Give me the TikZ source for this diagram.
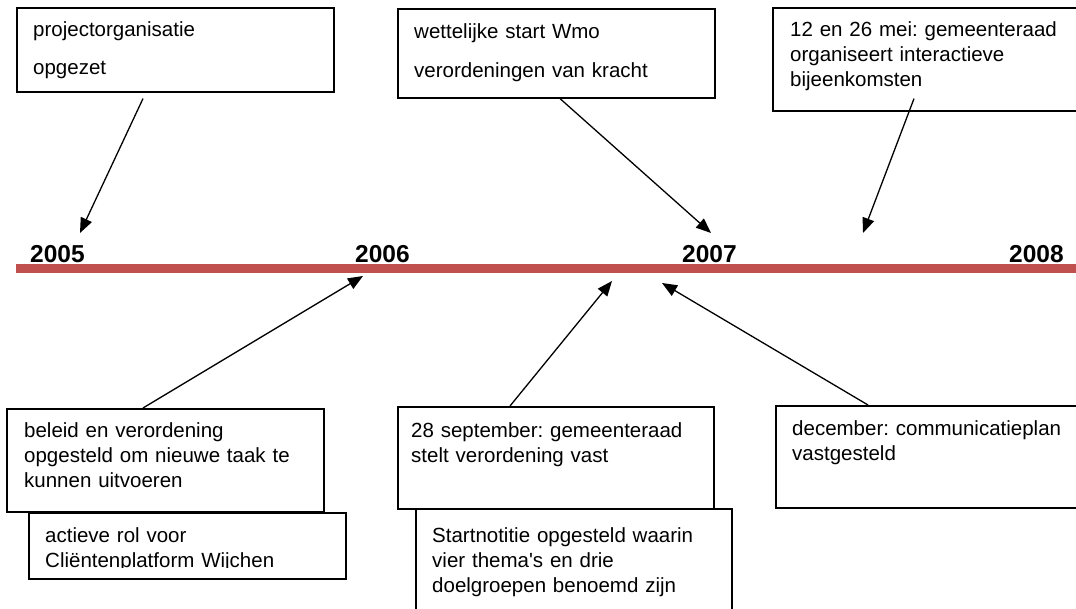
\documentclass[tikz,border=0pt]{standalone}
\usepackage{fontspec}
\setmainfont{Liberation Sans}
\usetikzlibrary{arrows.meta,calc}
\definecolor{barred}{RGB}{192,80,77}
\frenchspacing
\begin{document}
\begin{tikzpicture}[x=1pt,y=-1pt,
  evbox/.style={draw=black,line width=1.6pt,inner sep=0pt,anchor=north west,minimum width=#1},
  txt/.style={inner sep=0pt,anchor=base west,align=left,text width=330pt,font=\fontsize{20.5}{25}\selectfont},
  wide/.style={font=\fontsize{20.5}{#1}\selectfont},
  yearlbl/.style={inner sep=0pt,anchor=base west,font=\fontsize{24.5}{24.5}\selectfont\bfseries},
  arr/.style={line width=1.3pt,-{Triangle[length=15pt,width=12pt]}}]
\useasboundingbox (0,0) rectangle (1076,609);
\clip (0,0) rectangle (1076,609);

% timeline
\fill[barred] (16,264) rectangle (1080,273);
\node[yearlbl] (y5) at (30,262.5) {2005};
\node[yearlbl] (y6) at (355,262.5) {2006};
\node[yearlbl] (y7) at (682,262.5) {2007};
\node[yearlbl] (y8) at (1009,262.5) {2008};

% top boxes
\node[evbox=317pt,minimum height=84pt] (b1) at (16,7) {};
\node[txt,wide=38] (t1) at (33,37) {projectorganisatie\\opgezet};

\node[evbox=317pt,minimum height=89pt] (b2) at (397,8) {};
\node[txt,wide=39] (t2) at (414,39) {wettelijke start Wmo\\verordeningen van kracht};

\node[evbox=330pt,minimum height=103pt] (b3) at (772,7) {};
\node[txt] (t3) at (790,37) {12 en 26 mei: gemeenteraad\\organiseert interactieve\\bijeenkomsten};

% bottom boxes
\node[evbox=317pt,minimum height=103pt] (b4) at (6,408) {};
\node[txt] (t4) at (24,437) {beleid en verordening\\opgesteld om nieuwe taak te\\kunnen uitvoeren};

\node[evbox=317pt,minimum height=66pt] (b5) at (28,512) {};
\begin{scope}
\clip (28,512) rectangle (345,567.5);
\node[txt] (t5) at (45,542) {actieve rol voor\\Cliëntenplatform Wijchen};
\end{scope}

\node[evbox=316pt,minimum height=102pt] (b6) at (397,406) {};
\node[txt] (t6) at (411,437) {28 september: gemeenteraad\\stelt verordening vast};

\node[evbox=316pt,minimum height=120pt] (b7) at (415,508) {};
\node[txt] (t7) at (432,542) {Startnotitie opgesteld waarin\\vier thema\textquotesingle s en drie\\doelgroepen benoemd zijn};

\node[evbox=330pt,minimum height=102pt] (b8) at (775,405) {};
\node[txt] (t8) at (792,435) {december: communicatieplan\\vastgesteld};

% arrow end points
\coordinate (p1) at (80,233);
\coordinate (p2) at (711,233);
\coordinate (p3) at (863,233);
\coordinate (p4) at (363,276);
\coordinate (p5) at (612,281);
\coordinate (p6) at (662,283);

\draw[arr] ($(b1.south west)+(127,6)$) -- (p1);
\draw[arr] ($(b2.south west)+(163,0)$) -- (p2);
\draw[arr] ($(b3.south west)+(142,-13)$) -- (p3);
\draw[arr] ($(b4.north west)+(137,0)$) -- (p4);
\draw[arr] ($(b6.north west)+(113,0)$) -- (p5);
\draw[arr] ($(b8.north west)+(93,0)$) -- (p6);
\end{tikzpicture}
\end{document}
